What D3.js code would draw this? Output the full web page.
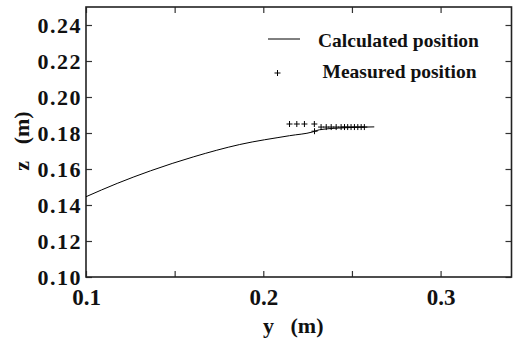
<!DOCTYPE html>
<html>
<head>
<meta charset="utf-8">
<script src="https://cdn.jsdelivr.net/npm/d3@7"></script>
<style>
  body { margin: 0; background: #fff; }
  svg { display: block; }
  svg text { font-family: "Liberation Serif", "Times New Roman", serif; }
</style>
</head>
<body>
<svg id="chart"></svg>
<script>
// calculated trajectory (y, z in metres)
const calcY = [0.100, 0.1176, 0.1364, 0.1608, 0.1867, 0.2148, 0.2279, 0.2317, 0.2458, 0.2626];
const calcZ = [0.1446, 0.1520, 0.1590, 0.1668, 0.1736, 0.1785, 0.1806, 0.1818, 0.1829, 0.1834];

// measured positions
const measY = [0.2148, 0.2189, 0.2232, 0.2288, 0.2289, 0.2326, 0.2355, 0.2383, 0.2411, 0.2439,
  0.2458, 0.2476, 0.2495, 0.2514, 0.2533, 0.2552, 0.2570];
const measZ = [0.1850, 0.1850, 0.1850, 0.1850, 0.1810, 0.1833, 0.1833, 0.1833, 0.1833, 0.1833,
  0.1833, 0.1833, 0.1833, 0.1833, 0.1833, 0.1833, 0.1833];

const xTicks = [0.1, 0.15, 0.2, 0.25, 0.3];
const xLabelTicks = [0.1, 0.2, 0.3];
const yTicks = [0.10, 0.12, 0.14, 0.16, 0.18, 0.20, 0.22, 0.24];
const legendLabels = ['Calculated position', 'Measured position'];

const serif = '"Liberation Serif", "Times New Roman", serif';
const width = 513, height = 347;
const margin = { top: 7, right: 1.5, bottom: 70, left: 86 };

const svg = d3.select('#chart')
  .attr('width', width)
  .attr('height', height);

const xScale = d3.scaleLinear()
  .domain([0.1, 0.34])
  .range([margin.left, width - margin.right]);

const yScale = d3.scaleLinear()
  .domain([0.10, 0.25])
  .range([height - margin.bottom, margin.top]);

const x0 = xScale.range()[0], x1 = xScale.range()[1];
const y0 = yScale.range()[0], y1 = yScale.range()[1];

// Axes with inward ticks
const xAxis = d3.axisBottom(xScale)
  .tickValues(xTicks)
  .tickSize(-6)
  .tickPadding(12)
  .tickFormat(d => xLabelTicks.some(v => Math.abs(v - d) < 1e-9) ? d3.format('.1f')(d) : '');

const xAxisTop = d3.axisTop(xScale)
  .tickValues(xTicks)
  .tickSize(-6)
  .tickFormat('');

const yAxis = d3.axisLeft(yScale)
  .tickValues(yTicks)
  .tickSize(-6)
  .tickPadding(4)
  .tickFormat(d3.format('.2f'));

const yAxisRight = d3.axisRight(yScale)
  .tickValues(yTicks)
  .tickSize(-6)
  .tickFormat('');

const xg = svg.append('g')
  .attr('transform', `translate(0,${y0})`)
  .call(xAxis);
xg.selectAll('text')
  .style('font-family', serif)
  .style('font-size', '23px')
  .style('font-weight', 'bold')
  .attr('fill', '#111');

svg.append('g')
  .attr('transform', `translate(0,${y1})`)
  .call(xAxisTop);

const yg = svg.append('g')
  .attr('transform', `translate(${x0},0)`)
  .call(yAxis);
yg.selectAll('text')
  .style('font-family', serif)
  .style('font-size', '22px')
  .style('font-weight', 'bold')
  .style('letter-spacing', '1.5px')
  .attr('fill', '#111');

svg.append('g')
  .attr('transform', `translate(${x1},0)`)
  .call(yAxisRight);

svg.selectAll('.domain').remove();
svg.selectAll('.tick line')
  .attr('stroke', '#333')
  .attr('stroke-width', 1.2);

// Frame
svg.append('rect')
  .attr('x', x0)
  .attr('y', y1)
  .attr('width', x1 - x0)
  .attr('height', y0 - y1)
  .attr('fill', 'none')
  .attr('stroke', '#222')
  .attr('stroke-width', 1.6);

// Calculated line
const calcData = calcY.map((v, i) => ({ y: v, z: calcZ[i] }));
const line = d3.line()
  .x(d => xScale(d.y))
  .y(d => yScale(d.z))
  .curve(d3.curveMonotoneX);

svg.append('path')
  .datum(calcData)
  .attr('d', line)
  .attr('fill', 'none')
  .attr('stroke', '#000')
  .attr('stroke-width', 1);

// Measured crosses
const measData = measY.map((v, i) => ({ y: v, z: measZ[i] }));
const crossPath = (cx, cy, s) => `M${cx - s},${cy}H${cx + s}M${cx},${cy - s}V${cy + s}`;

svg.append('g')
  .selectAll('path')
  .data(measData)
  .join('path')
  .attr('d', d => crossPath(xScale(d.y), yScale(d.z), 3))
  .attr('fill', 'none')
  .attr('stroke', '#000')
  .attr('stroke-width', 1);

// Legend
const legend = svg.append('g');
legend.append('line')
  .attr('x1', 268).attr('x2', 300)
  .attr('y1', 39).attr('y2', 39)
  .attr('stroke', '#000')
  .attr('stroke-width', 1);
legend.append('path')
  .attr('d', crossPath(277.5, 73, 3))
  .attr('stroke', '#000')
  .attr('stroke-width', 1);
legend.selectAll('text')
  .data(legendLabels)
  .join('text')
  .attr('x', (d, i) => i === 0 ? 318 : 322.5)
  .attr('y', (d, i) => i === 0 ? 47 : 78)
  .style('font-size', '19.5px')
  .style('font-weight', 'bold')
  .attr('fill', '#111')
  .text(d => d);

// Axis labels
svg.append('text')
  .attr('x', 263)
  .attr('y', 333)
  .style('font-size', '22px')
  .style('font-weight', 'bold')
  .attr('fill', '#111')
  .attr('xml:space', 'preserve')
  .text('y   (m)');

svg.append('text')
  .attr('transform', 'translate(29,141) rotate(-90)')
  .attr('text-anchor', 'middle')
  .style('font-size', '22px')
  .style('font-weight', 'bold')
  .attr('fill', '#111')
  .attr('xml:space', 'preserve')
  .text('z   (m)');
</script>
</body>
</html>
